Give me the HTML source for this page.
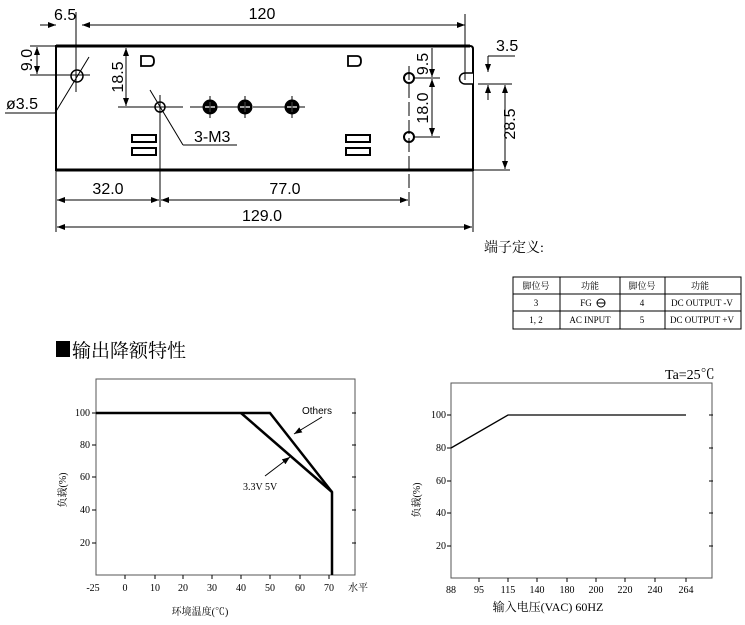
<!DOCTYPE html>
<html><head><meta charset="utf-8"><style>
body{margin:0;background:#fff;}
svg{display:block;font-family:"Liberation Sans","Noto Sans CJK SC",sans-serif;}
.s{font-family:"Liberation Serif","Noto Serif CJK SC",serif;}
</style></head><body>
<svg width="745" height="625" viewBox="0 0 745 625" xmlns="http://www.w3.org/2000/svg">
<defs>
<marker id="a" markerWidth="8" markerHeight="6" refX="8" refY="3" orient="auto" markerUnits="userSpaceOnUse"><path d="M0,0 L8,3 L0,6 z" fill="#000"/></marker>
<marker id="b" markerWidth="8" markerHeight="6" refX="0" refY="3" orient="auto" markerUnits="userSpaceOnUse"><path d="M8,0 L0,3 L8,6 z" fill="#000"/></marker>
</defs>
<g stroke="#000" fill="none">
<path d="M56,46 H470 Q473,46 473,49 V170 H56 Z" stroke-width="2"/>
<line x1="56" y1="46" x2="470" y2="46" stroke-width="3"/>
<line x1="56" y1="170" x2="473" y2="170" stroke-width="3"/>
<path d="M473,73 H465 A5.5,5.5 0 0 0 465,84 H473" stroke-width="1.5" fill="#fff"/>
<line x1="76" y1="12" x2="76" y2="92"/>
<line x1="465" y1="14" x2="465" y2="80"/>
<line x1="82" y1="25" x2="465" y2="25" marker-start="url(#b)" marker-end="url(#a)"/>
<line x1="40" y1="25" x2="56" y2="25" marker-end="url(#a)"/>
<line x1="30" y1="46" x2="56" y2="46"/>
<line x1="30" y1="75" x2="90" y2="75"/>
<line x1="37" y1="47" x2="37" y2="74" marker-start="url(#b)" marker-end="url(#a)"/>
<circle cx="77" cy="76" r="6" stroke-width="1.5"/>
<line x1="89" y1="57" x2="55" y2="113"/>
<line x1="55" y1="113" x2="5" y2="113"/>
<line x1="126" y1="48" x2="126" y2="106" marker-start="url(#b)" marker-end="url(#a)"/>
<line x1="118" y1="107" x2="183" y2="107"/>
<line x1="190" y1="107" x2="305" y2="107" stroke-dasharray="55,8"/>
<line x1="160" y1="95" x2="160" y2="207"/>
<circle cx="160" cy="107" r="5" stroke-width="1.5"/>
<g fill="#000"><circle cx="210" cy="107" r="7"/><circle cx="245" cy="107" r="7"/><circle cx="292" cy="107" r="7"/></g>
<g stroke="#fff" stroke-width="1.3"><path d="M205,107h10M210,102v10M240,107h10M245,102v10M287,107h10M292,102v10"/></g>
<g><path d="M210,96v22M245,96v22M292,96v22"/></g>
<line x1="150" y1="90" x2="183" y2="145"/>
<line x1="183" y1="145" x2="237" y2="145"/>
<path d="M141,56 H150 Q154,56 154,61 Q154,66 150,66 H141 Z" stroke-width="1.8"/>
<path d="M348,56 H357 Q361,56 361,61 Q361,66 357,66 H348 Z" stroke-width="1.8"/>
<rect x="132" y="135" width="24" height="7" stroke-width="2"/><rect x="132" y="148" width="24" height="7" stroke-width="2"/>
<rect x="346" y="135" width="24" height="7" stroke-width="2"/><rect x="346" y="148" width="24" height="7" stroke-width="2"/>
<circle cx="409" cy="78" r="5" stroke-width="2"/>
<circle cx="409" cy="137" r="5" stroke-width="2"/>
<line x1="409" y1="66" x2="409" y2="207" stroke-dasharray="14,4"/>
<line x1="415" y1="78" x2="440" y2="78"/>
<line x1="415" y1="137" x2="440" y2="137"/>
<line x1="432" y1="48" x2="432" y2="77" marker-end="url(#a)"/>
<line x1="432" y1="79" x2="432" y2="136" marker-start="url(#b)" marker-end="url(#a)"/>
<line x1="488" y1="56" x2="515" y2="56"/>
<line x1="488" y1="56" x2="488" y2="72" marker-end="url(#a)"/>
<line x1="488" y1="100" x2="488" y2="85" marker-end="url(#a)"/>
<line x1="478" y1="84" x2="512" y2="84"/>
<line x1="473" y1="170" x2="510" y2="170"/>
<line x1="505" y1="85" x2="505" y2="169" marker-start="url(#b)" marker-end="url(#a)"/>
<line x1="56" y1="170" x2="56" y2="232"/>
<line x1="473" y1="170" x2="473" y2="232"/>
<line x1="57" y1="200" x2="159" y2="200" marker-start="url(#b)" marker-end="url(#a)"/>
<line x1="161" y1="200" x2="408" y2="200" marker-start="url(#b)" marker-end="url(#a)"/>
<line x1="57" y1="227" x2="472" y2="227" marker-start="url(#b)" marker-end="url(#a)"/>
</g>
<g font-size="16" fill="#000">
<text x="54" y="20">6.5</text>
<text x="262" y="19" text-anchor="middle">120</text>
<text transform="translate(32,60) rotate(-90)" text-anchor="middle">9.0</text>
<text x="6" y="109">ø3.5</text>
<text transform="translate(123,77) rotate(-90)" text-anchor="middle">18.5</text>
<text x="194" y="142">3-M3</text>
<text transform="translate(428,64) rotate(-90)" text-anchor="middle">9.5</text>
<text transform="translate(428,108) rotate(-90)" text-anchor="middle">18.0</text>
<text x="496" y="51">3.5</text>
<text transform="translate(515,124) rotate(-90)" text-anchor="middle">28.5</text>
<text x="108" y="194" text-anchor="middle">32.0</text>
<text x="285" y="194" text-anchor="middle">77.0</text>
<text x="262" y="221" text-anchor="middle">129.0</text>
</g>
<text x="484" y="252" font-size="14" class="s">端子定义:</text>
<g stroke="#000" fill="none" stroke-width="1">
<rect x="513" y="277" width="228" height="52"/>
<line x1="513" y1="294" x2="741" y2="294"/><line x1="513" y1="311" x2="741" y2="311"/>
<line x1="560" y1="277" x2="560" y2="329"/><line x1="620" y1="277" x2="620" y2="329"/><line x1="665" y1="277" x2="665" y2="329"/>
</g>
<g font-size="9" class="s" fill="#000" text-anchor="middle">
<text x="536" y="289">脚位号</text><text x="590" y="289">功能</text><text x="642" y="289">脚位号</text><text x="700" y="289">功能</text>
<text x="536" y="306">3</text><text x="586" y="306">FG</text><text x="642" y="306">4</text><text x="702" y="306">DC OUTPUT -V</text>
<text x="536" y="323">1, 2</text><text x="590" y="323">AC INPUT</text><text x="642" y="323">5</text><text x="702" y="323">DC OUTPUT +V</text>
</g>
<circle cx="601" cy="303" r="4" fill="none" stroke="#000"/><line x1="597" y1="303" x2="605" y2="303" stroke="#000"/>
<rect x="56" y="341" width="14" height="16" fill="#000"/>
<text x="72" y="357" font-size="19" class="s">输出降额特性</text>
<g stroke="#555" fill="none"><rect x="96" y="379" width="259" height="196"/></g>
<g stroke="#000" stroke-width="1">
<path d="M92,413h4M92,445h4M92,477h4M92,510h4M92,543h4M352,413h4M352,445h4M352,477h4M352,510h4M352,543h4"/>
<path d="M125,575v4M155,575v4M183,575v4M212,575v4M241,575v4M270,575v4M300,575v4M329,575v4"/>
</g>
<g stroke="#000" stroke-width="2.5" fill="none">
<path d="M96,413 H270 L332,492 V575"/>
<path d="M241,413 L332,492"/>
</g>
<g stroke="#000" stroke-width="1"><line x1="322" y1="417" x2="294" y2="434" marker-end="url(#a)"/><line x1="265" y1="476" x2="290" y2="457" marker-end="url(#a)"/></g>
<text x="302" y="414" font-size="10">Others</text>
<g class="s" font-size="10" fill="#000">
<text x="243" y="490">3.3V 5V</text>
<text x="90" y="416" text-anchor="end">100</text><text x="90" y="448" text-anchor="end">80</text><text x="90" y="480" text-anchor="end">60</text><text x="90" y="513" text-anchor="end">40</text><text x="90" y="546" text-anchor="end">20</text>
<g text-anchor="middle"><text x="93" y="591">-25</text><text x="125" y="591">0</text><text x="155" y="591">10</text><text x="183" y="591">20</text><text x="212" y="591">30</text><text x="241" y="591">40</text><text x="270" y="591">50</text><text x="300" y="591">60</text><text x="329" y="591">70</text></g>
<text x="348" y="591">水平</text>
<text x="200" y="615" text-anchor="middle">环境温度(℃)</text>
<text transform="translate(66,490) rotate(-90)" text-anchor="middle">负载(%)</text>
</g>
<g stroke="#555" fill="none"><rect x="451" y="383" width="261" height="195"/></g>
<g stroke="#000">
<path d="M447,415h4M447,448h4M447,481h4M447,513h4M447,546h4M709,415h4M709,448h4M709,481h4M709,513h4M709,546h4"/>
<path d="M479,578v4M508,578v4M537,578v4M567,578v4M596,578v4M625,578v4M655,578v4M686,578v4"/>
</g>
<path d="M451,448 L508,415 H686" stroke="#000" stroke-width="1.3" fill="none"/>
<g class="s" font-size="10" fill="#000">
<text x="665" y="379" font-size="14">Ta=25℃</text>
<text x="446" y="418" text-anchor="end">100</text><text x="446" y="451" text-anchor="end">80</text><text x="446" y="484" text-anchor="end">60</text><text x="446" y="516" text-anchor="end">40</text><text x="446" y="549" text-anchor="end">20</text>
<g text-anchor="middle"><text x="451" y="593">88</text><text x="479" y="593">95</text><text x="508" y="593">115</text><text x="537" y="593">140</text><text x="567" y="593">180</text><text x="596" y="593">200</text><text x="625" y="593">220</text><text x="655" y="593">240</text><text x="686" y="593">264</text></g>
<text x="548" y="611" text-anchor="middle" font-size="12">输入电压(VAC) 60HZ</text>
<text transform="translate(420,500) rotate(-90)" text-anchor="middle">负载(%)</text>
</g>
</svg>
</body></html>
